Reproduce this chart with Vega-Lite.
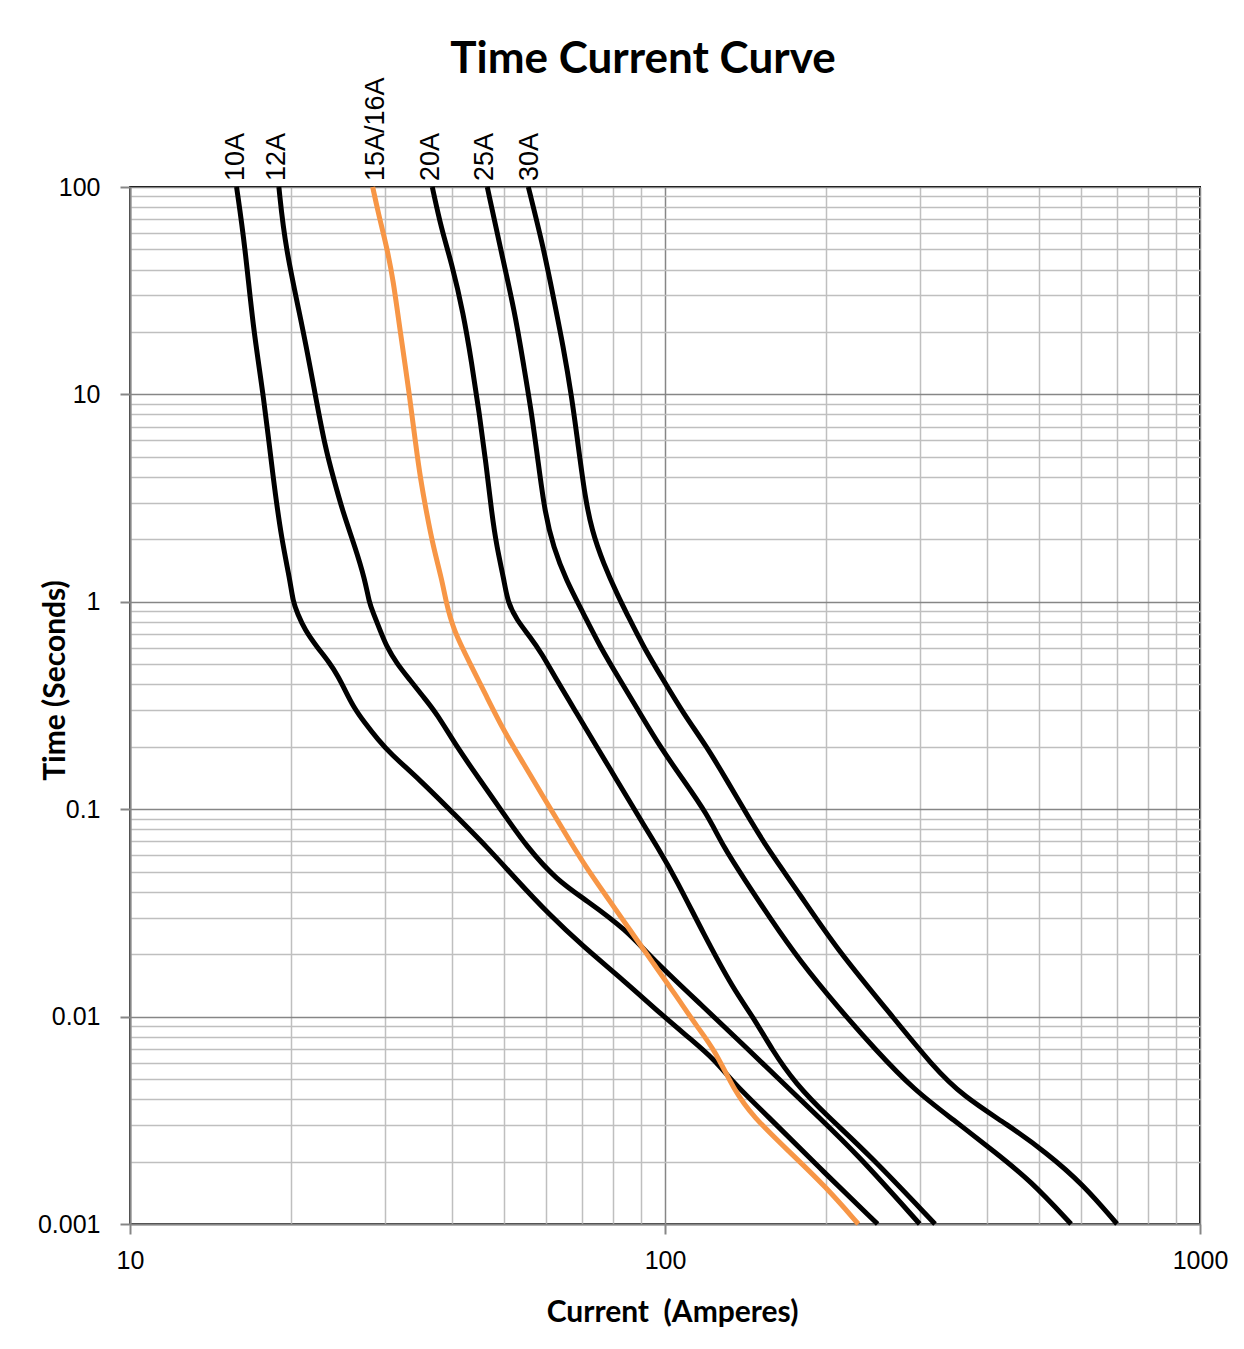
{
  "$schema": "https://vega.github.io/schema/vega-lite/v6.json",
  "width": 1070,
  "height": 1037,
  "autosize": {"type": "none"},
  "padding": {"left": 130, "top": 187, "right": 44, "bottom": 125},
  "background": "white",
  "title": {"text": "Time Current Curve", "font": "Lato", "fontSize": 44, "fontWeight": "bold", "color": "black", "anchor": "middle", "frame": "group", "offset": 0, "dx": -22, "dy": 5},
  "config": {"view": {"stroke": "black", "strokeWidth": 2}},
  "datasets": {
    "curves": [
      {"fuse": "10A", "amps": 15.82, "sec": 100},
      {"fuse": "10A", "amps": 16.41, "sec": 51.55},
      {"fuse": "10A", "amps": 17.0, "sec": 20.44},
      {"fuse": "10A", "amps": 17.75, "sec": 10.12},
      {"fuse": "10A", "amps": 18.53, "sec": 3.866},
      {"fuse": "10A", "amps": 19.21, "sec": 1.986},
      {"fuse": "10A", "amps": 19.91, "sec": 1.274},
      {"fuse": "10A", "amps": 20.17, "sec": 1.001},
      {"fuse": "10A", "amps": 20.56, "sec": 0.88},
      {"fuse": "10A", "amps": 21.23, "sec": 0.731},
      {"fuse": "10A", "amps": 22.34, "sec": 0.6075},
      {"fuse": "10A", "amps": 23.65, "sec": 0.5052},
      {"fuse": "10A", "amps": 24.51, "sec": 0.4355},
      {"fuse": "10A", "amps": 25.23, "sec": 0.3756},
      {"fuse": "10A", "amps": 26.15, "sec": 0.312},
      {"fuse": "10A", "amps": 27.5, "sec": 0.2596},
      {"fuse": "10A", "amps": 29.12, "sec": 0.2157},
      {"fuse": "10A", "amps": 30.62, "sec": 0.186},
      {"fuse": "10A", "amps": 34.84, "sec": 0.1383},
      {"fuse": "10A", "amps": 40.22, "sec": 0.0955},
      {"fuse": "10A", "amps": 46.42, "sec": 0.066},
      {"fuse": "10A", "amps": 52.83, "sec": 0.04556},
      {"fuse": "10A", "amps": 60.42, "sec": 0.03149},
      {"fuse": "10A", "amps": 70.37, "sec": 0.02173},
      {"fuse": "10A", "amps": 83.56, "sec": 0.01501},
      {"fuse": "10A", "amps": 98.72, "sec": 0.01018},
      {"fuse": "10A", "amps": 112.2, "sec": 0.00771},
      {"fuse": "10A", "amps": 123.9, "sec": 0.00618},
      {"fuse": "10A", "amps": 134.5, "sec": 0.00477},
      {"fuse": "10A", "amps": 153.6, "sec": 0.00342},
      {"fuse": "10A", "amps": 193.4, "sec": 0.00189},
      {"fuse": "10A", "amps": 249.7, "sec": 0.001},
      {"fuse": "12A", "amps": 18.98, "sec": 100},
      {"fuse": "12A", "amps": 19.49, "sec": 51.55},
      {"fuse": "12A", "amps": 21.08, "sec": 20.44},
      {"fuse": "12A", "amps": 22.17, "sec": 10.12},
      {"fuse": "12A", "amps": 23.15, "sec": 5.595},
      {"fuse": "12A", "amps": 24.06, "sec": 3.866},
      {"fuse": "12A", "amps": 25.04, "sec": 2.671},
      {"fuse": "12A", "amps": 26.34, "sec": 1.844},
      {"fuse": "12A", "amps": 27.5, "sec": 1.274},
      {"fuse": "12A", "amps": 27.97, "sec": 1.001},
      {"fuse": "12A", "amps": 28.5, "sec": 0.88},
      {"fuse": "12A", "amps": 29.33, "sec": 0.731},
      {"fuse": "12A", "amps": 30.18, "sec": 0.6075},
      {"fuse": "12A", "amps": 31.51, "sec": 0.5052},
      {"fuse": "12A", "amps": 33.37, "sec": 0.4197},
      {"fuse": "12A", "amps": 35.33, "sec": 0.3486},
      {"fuse": "12A", "amps": 37.43, "sec": 0.29},
      {"fuse": "12A", "amps": 40.8, "sec": 0.2001},
      {"fuse": "12A", "amps": 45.1, "sec": 0.1383},
      {"fuse": "12A", "amps": 49.87, "sec": 0.0955},
      {"fuse": "12A", "amps": 55.13, "sec": 0.066},
      {"fuse": "12A", "amps": 62.73, "sec": 0.04556},
      {"fuse": "12A", "amps": 71.18, "sec": 0.03649},
      {"fuse": "12A", "amps": 84.75, "sec": 0.02616},
      {"fuse": "12A", "amps": 95.13, "sec": 0.01875},
      {"fuse": "12A", "amps": 117.9, "sec": 0.01116},
      {"fuse": "12A", "amps": 139.1, "sec": 0.00744},
      {"fuse": "12A", "amps": 164.0, "sec": 0.00495},
      {"fuse": "12A", "amps": 193.4, "sec": 0.00329},
      {"fuse": "12A", "amps": 228.0, "sec": 0.00219},
      {"fuse": "12A", "amps": 299.3, "sec": 0.001},
      {"fuse": "15A/16A", "amps": 28.42, "sec": 100},
      {"fuse": "15A/16A", "amps": 29.12, "sec": 74.68},
      {"fuse": "15A/16A", "amps": 30.18, "sec": 51.55},
      {"fuse": "15A/16A", "amps": 31.05, "sec": 35.62},
      {"fuse": "15A/16A", "amps": 31.96, "sec": 20.44},
      {"fuse": "15A/16A", "amps": 33.27, "sec": 10.12},
      {"fuse": "15A/16A", "amps": 34.24, "sec": 5.595},
      {"fuse": "15A/16A", "amps": 34.94, "sec": 3.866},
      {"fuse": "15A/16A", "amps": 35.85, "sec": 2.671},
      {"fuse": "15A/16A", "amps": 36.88, "sec": 1.844},
      {"fuse": "15A/16A", "amps": 38.29, "sec": 1.274},
      {"fuse": "15A/16A", "amps": 38.96, "sec": 1.001},
      {"fuse": "15A/16A", "amps": 40.22, "sec": 0.731},
      {"fuse": "15A/16A", "amps": 43.19, "sec": 0.5052},
      {"fuse": "15A/16A", "amps": 46.42, "sec": 0.3486},
      {"fuse": "15A/16A", "amps": 49.87, "sec": 0.2409},
      {"fuse": "15A/16A", "amps": 54.34, "sec": 0.1665},
      {"fuse": "15A/16A", "amps": 59.21, "sec": 0.1149},
      {"fuse": "15A/16A", "amps": 64.55, "sec": 0.0794},
      {"fuse": "15A/16A", "amps": 70.37, "sec": 0.0548},
      {"fuse": "15A/16A", "amps": 77.83, "sec": 0.0378},
      {"fuse": "15A/16A", "amps": 86.02, "sec": 0.02616},
      {"fuse": "15A/16A", "amps": 95.09, "sec": 0.01807},
      {"fuse": "15A/16A", "amps": 105.2, "sec": 0.01247},
      {"fuse": "15A/16A", "amps": 114.8, "sec": 0.00894},
      {"fuse": "15A/16A", "amps": 123.9, "sec": 0.0069},
      {"fuse": "15A/16A", "amps": 134.5, "sec": 0.00443},
      {"fuse": "15A/16A", "amps": 146.1, "sec": 0.00329},
      {"fuse": "15A/16A", "amps": 169.4, "sec": 0.002274},
      {"fuse": "15A/16A", "amps": 199.8, "sec": 0.001513},
      {"fuse": "15A/16A", "amps": 229.8, "sec": 0.001},
      {"fuse": "20A", "amps": 36.73, "sec": 100},
      {"fuse": "20A", "amps": 38.24, "sec": 62.03},
      {"fuse": "20A", "amps": 39.94, "sec": 42.87},
      {"fuse": "20A", "amps": 41.98, "sec": 24.6},
      {"fuse": "20A", "amps": 43.53, "sec": 14.13},
      {"fuse": "20A", "amps": 44.97, "sec": 8.109},
      {"fuse": "20A", "amps": 46.28, "sec": 4.654},
      {"fuse": "20A", "amps": 47.44, "sec": 2.671},
      {"fuse": "20A", "amps": 48.47, "sec": 1.844},
      {"fuse": "20A", "amps": 50.02, "sec": 1.274},
      {"fuse": "20A", "amps": 50.78, "sec": 1.001},
      {"fuse": "20A", "amps": 52.83, "sec": 0.8169},
      {"fuse": "20A", "amps": 55.94, "sec": 0.6787},
      {"fuse": "20A", "amps": 58.81, "sec": 0.5647},
      {"fuse": "20A", "amps": 62.73, "sec": 0.4197},
      {"fuse": "20A", "amps": 68.39, "sec": 0.29},
      {"fuse": "20A", "amps": 74.55, "sec": 0.2001},
      {"fuse": "20A", "amps": 81.23, "sec": 0.1383},
      {"fuse": "20A", "amps": 88.53, "sec": 0.0955},
      {"fuse": "20A", "amps": 97.03, "sec": 0.06501},
      {"fuse": "20A", "amps": 105.1, "sec": 0.04556},
      {"fuse": "20A", "amps": 117.9, "sec": 0.02522},
      {"fuse": "20A", "amps": 134.5, "sec": 0.01343},
      {"fuse": "20A", "amps": 146.1, "sec": 0.00999},
      {"fuse": "20A", "amps": 158.6, "sec": 0.0069},
      {"fuse": "20A", "amps": 175.1, "sec": 0.00477},
      {"fuse": "20A", "amps": 201.6, "sec": 0.00329},
      {"fuse": "20A", "amps": 239.6, "sec": 0.00219},
      {"fuse": "20A", "amps": 319.7, "sec": 0.001},
      {"fuse": "25A", "amps": 46.54, "sec": 100},
      {"fuse": "25A", "amps": 49.17, "sec": 51.55},
      {"fuse": "25A", "amps": 52.45, "sec": 24.6},
      {"fuse": "25A", "amps": 54.34, "sec": 14.13},
      {"fuse": "25A", "amps": 56.34, "sec": 8.109},
      {"fuse": "25A", "amps": 57.97, "sec": 4.654},
      {"fuse": "25A", "amps": 59.66, "sec": 2.671},
      {"fuse": "25A", "amps": 61.83, "sec": 1.844},
      {"fuse": "25A", "amps": 65.31, "sec": 1.274},
      {"fuse": "25A", "amps": 70.37, "sec": 0.88},
      {"fuse": "25A", "amps": 75.62, "sec": 0.6075},
      {"fuse": "25A", "amps": 82.39, "sec": 0.4197},
      {"fuse": "25A", "amps": 89.8, "sec": 0.29},
      {"fuse": "25A", "amps": 97.88, "sec": 0.2001},
      {"fuse": "25A", "amps": 108.2, "sec": 0.1383},
      {"fuse": "25A", "amps": 119.7, "sec": 0.0955},
      {"fuse": "25A", "amps": 128.9, "sec": 0.06501},
      {"fuse": "25A", "amps": 141.1, "sec": 0.04556},
      {"fuse": "25A", "amps": 157.1, "sec": 0.02987},
      {"fuse": "25A", "amps": 178.1, "sec": 0.01875},
      {"fuse": "25A", "amps": 210.0, "sec": 0.01116},
      {"fuse": "25A", "amps": 247.7, "sec": 0.0069},
      {"fuse": "25A", "amps": 292.0, "sec": 0.00443},
      {"fuse": "25A", "amps": 346.0, "sec": 0.00318},
      {"fuse": "25A", "amps": 412.0, "sec": 0.00224},
      {"fuse": "25A", "amps": 482.0, "sec": 0.00162},
      {"fuse": "25A", "amps": 574.1, "sec": 0.001},
      {"fuse": "30A", "amps": 55.53, "sec": 100},
      {"fuse": "30A", "amps": 59.21, "sec": 51.55},
      {"fuse": "30A", "amps": 61.83, "sec": 29.59},
      {"fuse": "30A", "amps": 64.55, "sec": 16.98},
      {"fuse": "30A", "amps": 66.93, "sec": 9.747},
      {"fuse": "30A", "amps": 68.87, "sec": 5.595},
      {"fuse": "30A", "amps": 70.87, "sec": 3.212},
      {"fuse": "30A", "amps": 72.95, "sec": 2.219},
      {"fuse": "30A", "amps": 76.68, "sec": 1.533},
      {"fuse": "30A", "amps": 81.79, "sec": 1.058},
      {"fuse": "30A", "amps": 84.79, "sec": 0.88},
      {"fuse": "30A", "amps": 91.09, "sec": 0.6075},
      {"fuse": "30A", "amps": 99.27, "sec": 0.4197},
      {"fuse": "30A", "amps": 108.2, "sec": 0.29},
      {"fuse": "30A", "amps": 119.7, "sec": 0.2001},
      {"fuse": "30A", "amps": 130.4, "sec": 0.1383},
      {"fuse": "30A", "amps": 144.2, "sec": 0.0887},
      {"fuse": "30A", "amps": 156.1, "sec": 0.06359},
      {"fuse": "30A", "amps": 178.1, "sec": 0.0393},
      {"fuse": "30A", "amps": 210.0, "sec": 0.02095},
      {"fuse": "30A", "amps": 260.2, "sec": 0.01076},
      {"fuse": "30A", "amps": 317.0, "sec": 0.00573},
      {"fuse": "30A", "amps": 361.9, "sec": 0.00411},
      {"fuse": "30A", "amps": 436.0, "sec": 0.00302},
      {"fuse": "30A", "amps": 515.0, "sec": 0.00222},
      {"fuse": "30A", "amps": 605.0, "sec": 0.00155},
      {"fuse": "30A", "amps": 699.7, "sec": 0.001}
    ],
    "labels": [
      {"fuse": "10A", "amps": 15.78, "sec": 100},
      {"fuse": "12A", "amps": 18.83, "sec": 100},
      {"fuse": "15A/16A", "amps": 28.83, "sec": 100},
      {"fuse": "20A", "amps": 36.52, "sec": 100},
      {"fuse": "25A", "amps": 46.09, "sec": 100},
      {"fuse": "30A", "amps": 55.95, "sec": 100}
    ]
  },
  "layer": [
    {
      "data": {"name": "curves"},
      "mark": {"type": "line", "strokeWidth": 5, "interpolate": "basis"},
      "encoding": {
        "x": {
          "field": "amps", "type": "quantitative",
          "scale": {"type": "log", "domain": [10, 1000], "nice": false},
          "axis": {
            "values": [10, 20, 30, 40, 50, 60, 70, 80, 90, 100, 200, 300, 400, 500, 600, 700, 800, 900, 1000],
            "title": "Current\u00a0 (Amperes)",
            "titleFont": "Lato", "titleFontSize": 30, "titleFontWeight": "bold", "titleColor": "black",
            "titleX": 542, "titleY": 88, "titleBaseline": "middle",
            "labelExpr": "indexof([10, 100, 1000], datum.value) >= 0 ? '' + datum.value : ''",
            "labelFont": "Liberation Sans", "labelFontSize": 25, "labelColor": "black",
            "labelPadding": 14, "labelFlush": false, "labelOverlap": false, "labelBound": false,
            "grid": true,
            "gridColor": {"condition": {"test": "indexof([10, 100, 1000], datum.value) >= 0", "value": "#868686"}, "value": "#BFBFBF"},
            "gridWidth": 1.5,
            "tickColor": "#868686", "tickSize": 10, "tickWidth": 2,
            "tickOpacity": {"condition": {"test": "indexof([10, 100, 1000], datum.value) >= 0", "value": 1}, "value": 0},
            "domainColor": "#868686", "domainWidth": 2
          }
        },
        "y": {
          "field": "sec", "type": "quantitative",
          "scale": {"type": "log", "domain": [0.001, 100], "nice": false},
          "axis": {
            "values": [0.001, 0.002, 0.003, 0.004, 0.005, 0.006, 0.007, 0.008, 0.009, 0.01, 0.02, 0.03, 0.04, 0.05, 0.06, 0.07, 0.08, 0.09, 0.1, 0.2, 0.3, 0.4, 0.5, 0.6, 0.7, 0.8, 0.9, 1, 2, 3, 4, 5, 6, 7, 8, 9, 10, 20, 30, 40, 50, 60, 70, 80, 90, 100],
            "title": "Time (Seconds)",
            "titleFont": "Lato", "titleFontSize": 30, "titleFontWeight": "bold", "titleColor": "black",
            "titleX": -75, "titleY": 493, "titleBaseline": "middle",
            "labelExpr": "indexof([0.001, 0.01, 0.1, 1, 10, 100], datum.value) >= 0 ? '' + datum.value : ''",
            "labelFont": "Liberation Sans", "labelFontSize": 25, "labelColor": "black",
            "labelPadding": 20, "labelOverlap": false, "labelBound": false, "labelFlush": false,
            "grid": true,
            "gridColor": {"condition": {"test": "indexof([0.001, 0.01, 0.1, 1, 10, 100], datum.value) >= 0", "value": "#868686"}, "value": "#BFBFBF"},
            "gridWidth": 1.5,
            "tickColor": "#868686", "tickSize": 10, "tickWidth": 2,
            "tickOpacity": {"condition": {"test": "indexof([0.001, 0.01, 0.1, 1, 10, 100], datum.value) >= 0", "value": 1}, "value": 0},
            "domainColor": "#868686", "domainWidth": 2
          }
        },
        "color": {
          "field": "fuse", "type": "nominal",
          "scale": {"domain": ["10A", "12A", "15A/16A", "20A", "25A", "30A"], "range": ["#000000", "#000000", "#F79646", "#000000", "#000000", "#000000"]},
          "legend": null
        }
      }
    },
    {
      "data": {"name": "labels"},
      "mark": {"type": "text", "angle": 270, "align": "left", "baseline": "middle", "dx": 6, "font": "Liberation Sans", "fontSize": 27, "color": "black"},
      "encoding": {
        "x": {"field": "amps", "type": "quantitative"},
        "y": {"field": "sec", "type": "quantitative"},
        "text": {"field": "fuse"}
      }
    }
  ]
}
